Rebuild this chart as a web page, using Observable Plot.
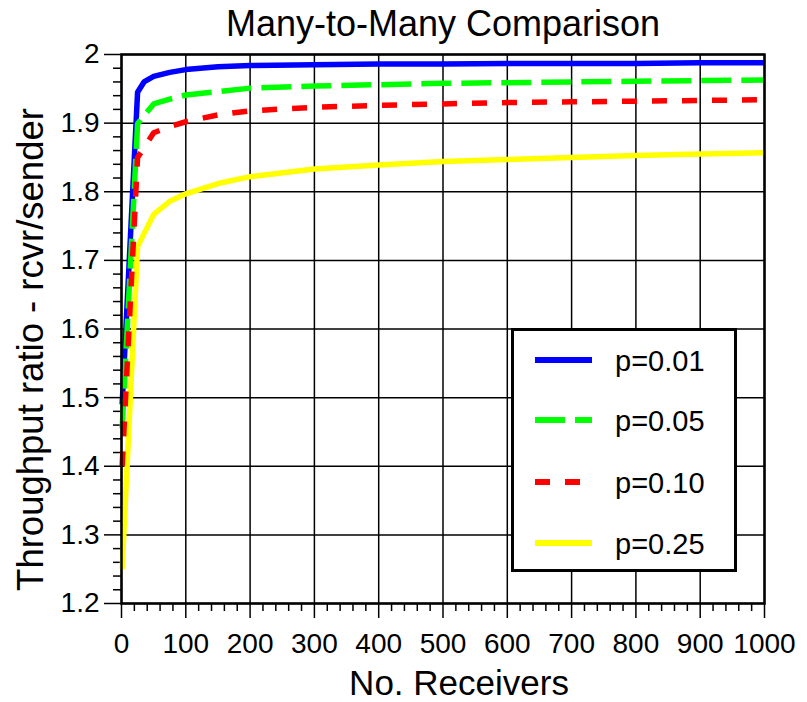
<!DOCTYPE html>
<html>
<head>
<meta charset="utf-8">
<script src="https://cdn.jsdelivr.net/npm/d3@7"></script>
<script src="https://cdn.jsdelivr.net/npm/@observablehq/plot@0.6"></script>
<style>
  html, body { margin: 0; padding: 0; background: #fff; }
  #fig { position: relative; width: 807px; height: 702px; overflow: hidden; font-family: "Liberation Sans", Arial, Helvetica, sans-serif; }
  #title { position: absolute; left: 121px; top: 2px; width: 644px; height: 44px; line-height: 44px; text-align: center; font-size: 36px; color: #000; white-space: nowrap; }
  #chart { position: absolute; left: 0; top: 44px; }
  #legend { position: absolute; left: 511px; top: 328px; }
</style>
</head>
<body>
<div id="fig">
  <div id="title">Many-to-Many Comparison</div>
  <div id="chart"></div>
  <div id="legend"></div>
</div>
<script>
// ---- data ----
const receivers = [1, 25, 35, 50, 75, 100, 150, 200, 300, 400, 500, 600, 700, 800, 900, 1000];
const p001 = [1.490, 1.945, 1.960, 1.968, 1.974, 1.978, 1.982, 1.984, 1.985, 1.986, 1.986, 1.987, 1.987, 1.987, 1.988, 1.988];
const p005 = [1.455, 1.899, 1.911, 1.928, 1.935, 1.941, 1.946, 1.951, 1.954, 1.956, 1.958, 1.959, 1.960, 1.961, 1.962, 1.963];
const p010 = [1.400, 1.850, 1.864, 1.886, 1.895, 1.902, 1.912, 1.918, 1.923, 1.926, 1.928, 1.930, 1.931, 1.932, 1.933, 1.934];
const p025 = [1.250, 1.720, 1.739, 1.767, 1.786, 1.797, 1.812, 1.822, 1.833, 1.839, 1.844, 1.847, 1.850, 1.853, 1.855, 1.857];
const seriesLabels = ["p=0.01", "p=0.05", "p=0.10", "p=0.25"];
const xTicks = [0, 100, 200, 300, 400, 500, 600, 700, 800, 900, 1000];
const yTicks = [1.2, 1.3, 1.4, 1.5, 1.6, 1.7, 1.8, 1.9, 2];

// ---- styles (kept apart from data) ----
const seriesValues = [p001, p005, p010, p025];
const seriesStyle = [
  {stroke: "#0000ff", dash: null},
  {stroke: "#00ff00", dash: "30,10"},
  {stroke: "#ff0000", dash: "15,15"},
  {stroke: "#ffff00", dash: null}
];

const xMinor = d3.range(0, 1001, 20).filter(v => v % 100 !== 0);
const yMinor = d3.range(1.2, 2.0001, 0.02).map(v => +v.toFixed(2)).filter(v => Math.abs(v * 10 - Math.round(v * 10)) > 1e-6);

const lineMarks = seriesValues.map((vals, i) => {
  const rows = receivers.map((r, j) => ({x: r, y: vals[j]}));
  const opts = {x: "x", y: "y", stroke: seriesStyle[i].stroke, strokeWidth: 5.5, strokeLinejoin: "miter", strokeLinecap: "butt"};
  if (seriesStyle[i].dash) opts.strokeDasharray = seriesStyle[i].dash;
  return Plot.line(rows, opts);
});
// draw yellow first, then blue, green, red
const ordered = [lineMarks[3], lineMarks[0], lineMarks[1], lineMarks[2]];

const chart = Plot.plot({
  width: 807,
  height: 658,
  marginTop: 10,
  marginBottom: 99,
  marginLeft: 121,
  marginRight: 43,
  style: {fontFamily: '"Liberation Sans", Arial, Helvetica, sans-serif', color: "#000", background: "#fff", overflow: "visible"},
  x: {domain: [0, 1000]},
  y: {domain: [1.2, 2]},
  marks: [
    Plot.gridX(xTicks, {stroke: "#000", strokeOpacity: 1, strokeWidth: 1.5}),
    Plot.gridY(yTicks, {stroke: "#000", strokeOpacity: 1, strokeWidth: 1.5}),
    Plot.axisX({ticks: xMinor, tickSize: 8, tickFormat: () => "", label: null, strokeWidth: 1.5}),
    Plot.axisY({ticks: yMinor, tickSize: 8, tickFormat: () => "", label: null, strokeWidth: 1.5}),
    Plot.axisX({ticks: xTicks, tickSize: 15, tickPadding: 15, tickFormat: d => String(d), label: null, fontSize: 28, strokeWidth: 1.5}),
    Plot.axisY({ticks: yTicks, tickSize: 17, tickPadding: 5, tickFormat: d => String(+d.toFixed(1)), label: null, fontSize: 28, strokeWidth: 1.5}),
    ...ordered,
    Plot.frame({stroke: "#000", strokeWidth: 2.5}),
    Plot.text(["No. Receivers"], {frameAnchor: "bottom", dx: 16, dy: 80, fontSize: 35, textAnchor: "middle", lineAnchor: "middle"}),
    Plot.text(["Throughput ratio - rcvr/sender"], {frameAnchor: "left", dx: -90.5, dy: 20.5, rotate: -90, fontSize: 36.5, textAnchor: "middle", lineAnchor: "middle"})
  ]
});
document.getElementById("chart").appendChild(chart);

// ---- legend ----
const ns = "http://www.w3.org/2000/svg";
const lw = 226, lh = 244;
const lg = document.createElementNS(ns, "svg");
lg.setAttribute("width", lw);
lg.setAttribute("height", lh);
const box = document.createElementNS(ns, "rect");
box.setAttribute("x", 1.5); box.setAttribute("y", 1.5);
box.setAttribute("width", lw - 3); box.setAttribute("height", lh - 3);
box.setAttribute("fill", "#fff"); box.setAttribute("stroke", "#000"); box.setAttribute("stroke-width", 3);
lg.appendChild(box);
const rowY = [32, 92, 154, 215];
seriesLabels.forEach((lab, i) => {
  const ln = document.createElementNS(ns, "line");
  ln.setAttribute("x1", 24); ln.setAttribute("x2", 81);
  ln.setAttribute("y1", rowY[i]); ln.setAttribute("y2", rowY[i]);
  ln.setAttribute("stroke", seriesStyle[i].stroke);
  ln.setAttribute("stroke-width", 6);
  if (seriesStyle[i].dash) ln.setAttribute("stroke-dasharray", seriesStyle[i].dash);
  lg.appendChild(ln);
  const tx = document.createElementNS(ns, "text");
  tx.setAttribute("x", 104); tx.setAttribute("y", rowY[i] + 11);
  tx.setAttribute("font-size", 29);
  tx.setAttribute("font-family", '"Liberation Sans", Arial, Helvetica, sans-serif');
  tx.setAttribute("fill", "#000");
  tx.textContent = lab;
  lg.appendChild(tx);
});
document.getElementById("legend").appendChild(lg);
</script>
</body>
</html>
